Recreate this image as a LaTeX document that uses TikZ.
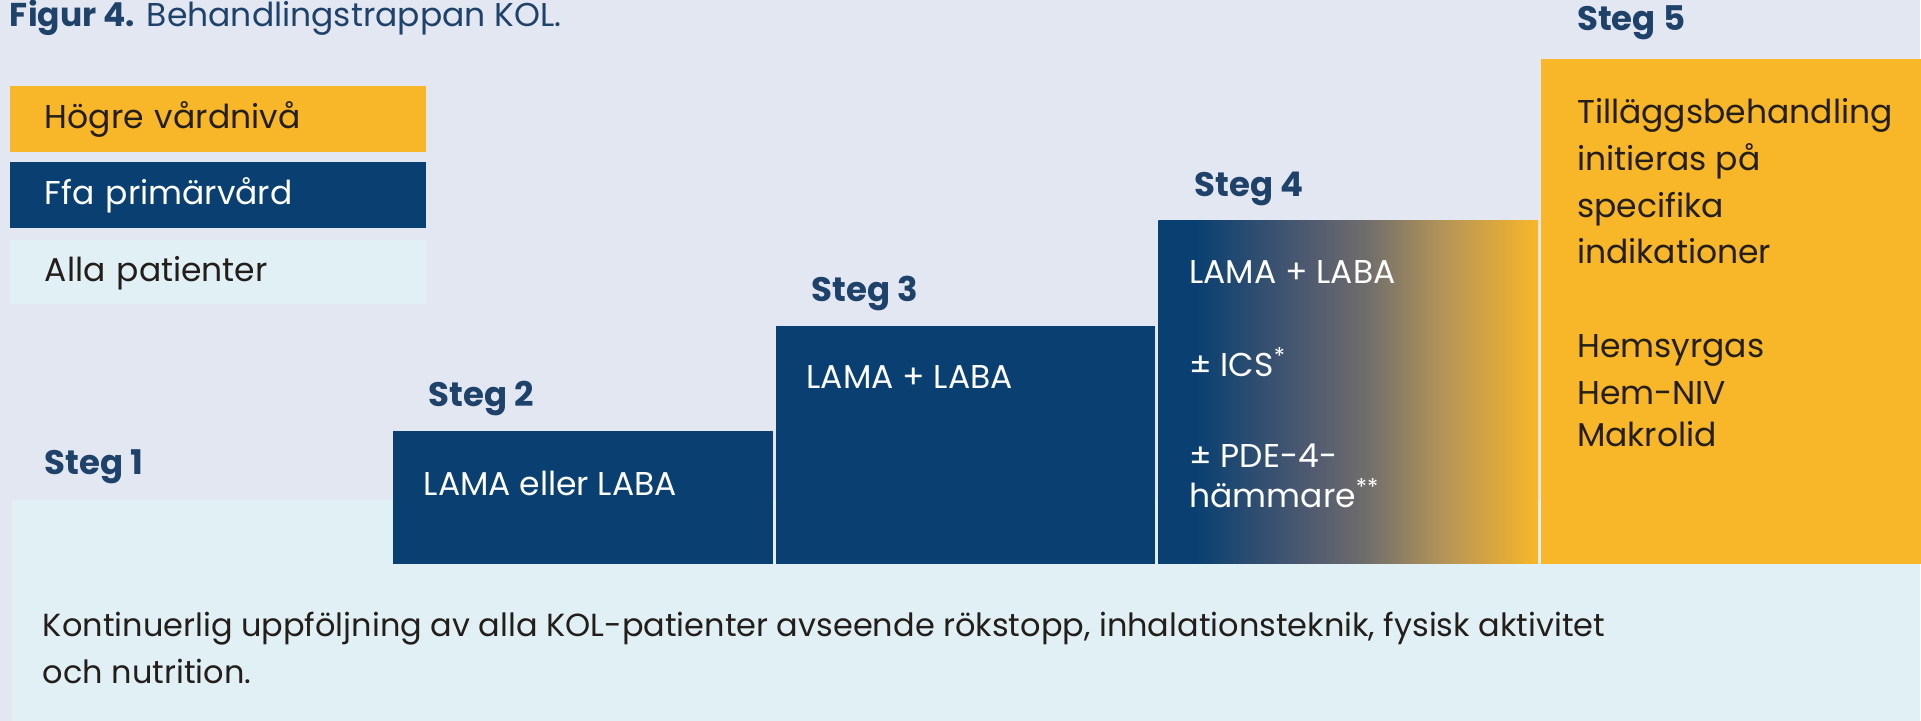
\documentclass[tikz,border=0pt]{standalone}
\usepackage{fontspec}
\setmainfont{Poppins}
\usetikzlibrary{positioning}

\definecolor{kolbg}{RGB}{227,231,241}
\definecolor{kolpale}{RGB}{225,240,245}
\definecolor{kolblue}{RGB}{10,64,113}
\definecolor{kolorange}{RGB}{248,182,41}
\definecolor{kolhead}{RGB}{30,66,106}
\definecolor{kolink}{RGB}{35,30,26}
\definecolor{fadeA}{RGB}{80,90,112}
\definecolor{fadeB}{RGB}{112,110,108}
\definecolor{fadeC}{RGB}{180,148,88}

% blue to orange, held blue on the left
\pgfdeclarehorizontalshading{stegfade}{100bp}{color(0bp)=(kolblue); color(30bp)=(kolblue);
  color(45bp)=(fadeA); color(52.5bp)=(fadeB); color(62.5bp)=(fadeC);
  color(75bp)=(kolorange); color(100bp)=(kolorange)}

\begin{document}
\begin{tikzpicture}[x=0.5pt,y=-0.5pt,font=\fontsize{16.5}{23.5}\selectfont,
  every node/.style={inner sep=0pt,outer sep=0pt},
  legend box/.style={anchor=north west,minimum height=33pt,text width=173pt,inner xsep=17.5pt,
    text height=1em,text depth=0pt},
  stepbox/.style={anchor=south west,minimum width=190pt,fill=kolblue},
  steg label/.style={text=kolhead,font=\fontsize{17}{20}\selectfont\bfseries},
  box text/.style={anchor=north west,align=left,text=white}]

  % background and the band for all patients
  \fill[kolbg] (0,0) rectangle (1921,721);
  \node[anchor=north west,fill=kolpale,minimum width=954.5pt,minimum height=110.5pt] (band) at (12,500) {};

  \node[anchor=west,text=kolhead] (title) at (10,18) {\textbf{Figur 4.} Behandlingstrappan KOL.};

  % legend
  \node[legend box,fill=kolorange,text=kolink] (hogre) at (10,86) {Högre vårdnivå};
  \node[legend box,fill=kolblue,text=white,below=5pt of hogre.south west,anchor=north west] (ffa) {Ffa primärvård};
  \node[legend box,fill=kolpale,text=kolink,minimum height=32pt,below=6pt of ffa.south west,anchor=north west] (alla) {Alla patienter};

  % the steps
  \node[stepbox,minimum height=66.5pt] (s2) at (393,564) {};
  \node[stepbox,minimum height=119pt,right=1.5pt of s2.south east,anchor=south west] (s3) {};
  \node[stepbox,minimum height=171.5pt,shade,shading=stegfade,right=1.5pt of s3.south east,anchor=south west] (s4) {};
  \node[stepbox,minimum height=252.5pt,fill=kolorange,right=1.5pt of s4.south east,anchor=south west] (s5) {};

  \node[steg label,anchor=base west] (steg1) at (45,475) {Steg 1};
  \node[steg label,above right=12pt and 18pt of s2.north west,anchor=base west] (steg2) {Steg 2};
  \node[steg label,above right=12pt and 18pt of s3.north west,anchor=base west] (steg3) {Steg 3};
  \node[steg label,above right=12pt and 18pt of s4.north west,anchor=base west] (steg4) {Steg 4};
  \node[steg label,above right=14pt and 18pt of s5.north west,anchor=base west] (steg5) {Steg 5};

  \node[box text,below right=20pt and 15.5pt of s2.north west] (s2text) {LAMA eller LABA};
  \node[box text,below right=20pt and 15.5pt of s3.north west] (s3text) {LAMA + LABA};
  \node[box text,below right=20pt and 15.5pt of s4.north west] (s4text)
    {LAMA + LABA\\[23pt] ± ICS\textsuperscript{*}\\[22pt] ± PDE-4-\\[-3.5pt] hämmare\textsuperscript{**}};
  \node[box text,text=kolink,below right=19.5pt and 18pt of s5.north west] (s5text)
    {Tilläggsbehandling\\initieras på\\specifika\\indikationer\\[23.5pt]Hemsyrgas\\Hem-NIV\\[-2.5pt]Makrolid};

  \node[box text,text=kolink,font=\fontsize{16}{23.5}\selectfont,below right=56pt and 15.5pt of band.north west] (uppfoljning)
    {Kontinuerlig uppföljning av alla KOL-patienter avseende rökstopp, inhalationsteknik, fysisk aktivitet\\och nutrition.};
\end{tikzpicture}
\end{document}
